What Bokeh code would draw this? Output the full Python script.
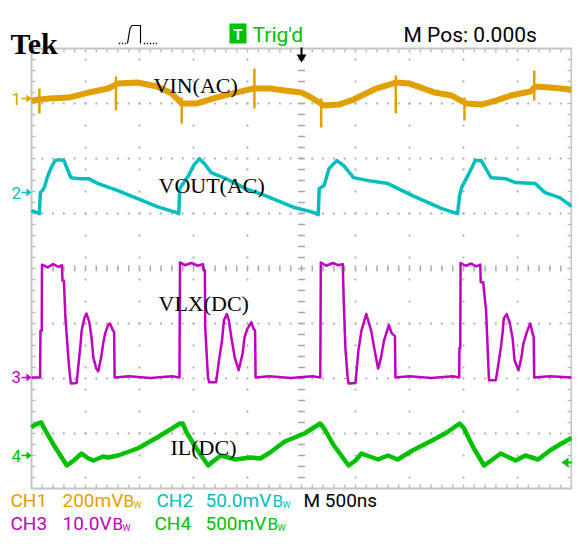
from bokeh.plotting import figure
from bokeh.models import Range1d, ColumnDataSource
from bokeh.core.properties import value
from bokeh.embed import file_html
from bokeh.resources import INLINE

# ------------------------------------------------------------------ data
TIME_DIV_US = 0.5                                  # M 500ns per division
CHANNELS = ["CH1", "CH2", "CH3", "CH4"]
CH_SETTINGS = ["200mV", "50.0mV", "10.0V", "500mV"]
CH_PER_DIV = [200.0, 50.0, 10.0, 500.0]            # mV, mV, V, mV per division
CH_MARKER_DIV = [3.09, 1.38, -1.98, -3.40]         # ground markers (div above centre)
TRACE_LABELS = ["VIN(AC)", "VOUT(AC)", "VLX(DC)", "IL(DC)"]
TIMEBASE = "M 500ns"
TRIG_STATE = "Trig'd"
M_POS = "M Pos: 0.000s"

# time in microseconds, value in channel units
VIN_MV = [(0.000, -7.3), (0.164, 0.0), (0.345, 3.6), (0.527, 21.8), (0.709, 36.4),
          (0.800, 54.5), (0.982, 58.2), (1.164, 43.6), (1.300, 18.2), (1.391, -18.2),
          (1.527, -18.2), (1.709, 3.6), (1.891, 21.8), (2.055, 36.4), (2.209, 36.4),
          (2.345, 29.1), (2.500, 21.8), (2.573, 7.3), (2.709, -25.5), (2.845, -21.8),
          (2.982, -3.6), (3.191, 36.4), (3.373, 58.2), (3.500, 54.5), (3.736, 21.8),
          (3.891, 10.9), (4.027, -18.2), (4.164, -21.8), (4.300, -7.3), (4.436, 10.9),
          (4.618, 25.5), (4.664, 43.6), (4.800, 40.0), (5.000, 32.7)]
VIN_SPIKES_MV = [(0.073, -54.5, 36.4), (0.782, -43.6, 80.0), (1.391, -90.9, 3.6),
                 (2.064, -36.4, 109.0), (2.682, -105.0, 0.0), (3.373, -54.5, 83.6),
                 (4.009, -80.0, 3.6), (4.655, -7.3, 101.8)]

VOUT_MV = [(0.000, -16.4), (0.073, -19.1), (0.082, 0.0), (0.100, 1.8), (0.118, 4.5),
           (0.145, 13.6), (0.182, 22.7), (0.218, 29.1), (0.255, 30.0), (0.300, 29.1),
           (0.364, 13.6), (0.436, 12.7), (0.527, 12.7), (0.618, 8.2), (0.800, 1.8),
           (0.982, -5.5), (1.164, -12.7), (1.345, -18.2), (1.364, -19.1), (1.373, 3.6),
           (1.409, 9.1), (1.455, 15.5), (1.500, 24.5), (1.555, 30.9), (1.600, 26.4),
           (1.664, 18.2), (1.800, 12.7), (1.982, 3.6), (2.164, -2.7), (2.436, -13.6),
           (2.618, -18.2), (2.655, -20.0), (2.664, 3.6), (2.709, 6.4), (2.755, 21.8),
           (2.827, 29.1), (2.891, 24.5), (2.982, 13.6), (3.118, 10.9), (3.300, 8.2),
           (3.527, -2.7), (3.800, -14.5), (3.945, -19.1), (3.964, -2.7), (3.982, 4.5),
           (4.055, 18.2), (4.109, 29.1), (4.164, 29.1), (4.255, 13.6), (4.391, 12.7),
           (4.482, 9.1), (4.664, 8.2), (4.755, 0.0), (4.891, -4.5), (5.000, -12.5)]

VLX_V = [(0.000, 0.0), (0.080, 0.0), (0.083, 8.5), (0.095, 8.5), (0.097, 20.5),
         (0.150, 20.0), (0.200, 20.6), (0.250, 20.1), (0.282, 20.4), (0.287, 17.6),
         (0.300, 17.6), (0.314, 10.9), (0.345, 2.5), (0.364, -1.1), (0.418, -1.0),
         (0.436, 2.5), (0.455, 6.2), (0.464, 8.5), (0.491, 10.9), (0.509, 11.6),
         (0.536, 10.0), (0.555, 7.3), (0.573, 3.6), (0.600, 1.6), (0.618, 1.1),
         (0.645, 3.6), (0.664, 6.2), (0.682, 8.0), (0.709, 9.5), (0.727, 9.8),
         (0.755, 8.5), (0.765, 8.3), (0.770, 0.0), (0.900, 0.2), (1.100, -0.1),
         (1.300, 0.2), (1.370, 0.0), (1.375, 20.9), (1.420, 20.4), (1.480, 20.8),
         (1.540, 20.3), (1.588, 20.6), (1.592, 19.5), (1.605, 19.5), (1.609, 8.9),
         (1.634, 0.0), (1.645, -0.9), (1.709, -0.9), (1.736, 3.1), (1.764, 6.7),
         (1.782, 10.4), (1.809, 11.5), (1.827, 10.4), (1.855, 6.7), (1.882, 3.6),
         (1.918, 1.3), (1.955, 4.4), (1.973, 7.3), (2.000, 8.9), (2.036, 10.0),
         (2.055, 8.9), (2.070, 8.5), (2.075, 0.0), (2.200, 0.2), (2.400, -0.1),
         (2.600, 0.2), (2.674, 0.0), (2.679, 20.9), (2.730, 20.3), (2.790, 20.8),
         (2.840, 20.4), (2.882, 20.6), (2.891, 14.0), (2.906, 5.5), (2.927, 0.0),
         (2.936, -1.1), (3.000, -1.0), (3.027, 4.9), (3.055, 8.5), (3.100, 11.5),
         (3.145, 8.5), (3.182, 4.4), (3.209, 1.6), (3.236, 3.6), (3.264, 6.7),
         (3.309, 9.5), (3.336, 8.0), (3.365, 7.5), (3.370, 0.0), (3.500, 0.2),
         (3.700, -0.1), (3.900, 0.2), (3.960, 0.0), (3.962, 5.3), (3.970, 5.3),
         (3.973, 20.8), (4.020, 20.3), (4.070, 20.7), (4.120, 20.2), (4.155, 20.5),
         (4.160, 17.3), (4.182, 17.3), (4.209, 12.2), (4.227, 3.6), (4.236, -0.5),
         (4.300, -0.5), (4.318, 1.8), (4.345, 5.3), (4.364, 8.5), (4.373, 10.7),
         (4.400, 11.5), (4.427, 10.0), (4.455, 7.1), (4.473, 3.1), (4.509, 1.3),
         (4.536, 3.6), (4.555, 6.2), (4.591, 8.5), (4.618, 9.8), (4.645, 7.6),
         (4.650, 7.4), (4.655, 0.0), (4.800, 0.2), (5.000, 0.0)]

IL_MV = [(0.000, 254.5), (0.036, 281.8), (0.091, 300.0), (0.118, 245.5), (0.209, 90.9),
         (0.327, -90.9), (0.391, -45.5), (0.464, 18.2), (0.527, -27.3), (0.573, -45.5),
         (0.664, -9.1), (0.709, -18.2), (0.800, 0.0), (0.982, 63.6), (1.164, 163.6),
         (1.300, 245.5), (1.373, 290.9), (1.400, 290.9), (1.436, 209.1), (1.527, 63.6),
         (1.636, -90.9), (1.691, -45.5), (1.755, 0.0), (1.891, -36.4), (2.027, -18.2),
         (2.118, -27.3), (2.209, 27.3), (2.345, 127.3), (2.527, 200.0), (2.673, 290.9),
         (2.709, 245.5), (2.800, 90.9), (2.936, -90.9), (3.000, -45.5), (3.055, 18.2),
         (3.209, -36.4), (3.300, 0.0), (3.391, -36.4), (3.527, 45.5), (3.709, 136.4),
         (3.845, 209.1), (3.964, 290.9), (4.000, 254.5), (4.091, 72.7), (4.191, -90.9),
         (4.255, -45.5), (4.345, 18.2), (4.482, -45.5), (4.573, 0.0), (4.691, -36.4),
         (4.800, 45.5), (4.891, 100.0), (5.000, 160.0)]

# ------------------------------------------------------------------ layout / style
W, H = 572, 536
XL, XR, YT, YB = 0, 572, 0, 536          # picture pixels covered by the canvas
GX0, GX1, GY0, GY1 = 31, 571, 48, 488    # graticule
NX, NY = 10, 8
DX = (GX1 - GX0) / NX
DY = (GY1 - GY0) / NY
XC = GX0 + DX * NX / 2
YC = GY0 + DY * NY / 2
COLORS = ["#E0A000", "#00BEBE", "#C000C0", "#00C000"]
GRID = "#a8a8a8"
SANS = value("Roboto")
SERIF = value("Liberation Serif")

p = figure(width=W, height=H, x_range=Range1d(XL, XR), y_range=Range1d(YB, YT),
           toolbar_location=None, output_backend="svg", min_border=0,
           x_axis_type=None, y_axis_type=None, outline_line_color=None,
           background_fill_color="white", border_fill_color="white")

p.extra_x_ranges = {"t": Range1d((XL - GX0) / DX * TIME_DIV_US, (XR - GX0) / DX * TIME_DIV_US)}
ranges = {}
for i, name in enumerate(CHANNELS):
    gy = YC - CH_MARKER_DIV[i] * DY
    s = CH_PER_DIV[i]
    ranges[name] = Range1d((gy - YB) / DY * s, (gy - YT) / DY * s)
p.extra_y_ranges = ranges

# ---------------- graticule
sub_x = [GX0 + DX * k / 5 for k in range(1, NX * 5)]
sub_y = [GY0 + DY * k / 5 for k in range(1, NY * 5)]
x0 = sub_x + sub_x + [GX0] * len(sub_y) + [GX1] * len(sub_y)
x1 = sub_x + sub_x + [GX0 + 4] * len(sub_y) + [GX1 - 4] * len(sub_y)
y0 = [GY0] * len(sub_x) + [GY1] * len(sub_x) + sub_y + sub_y
y1 = [GY0 + 4] * len(sub_x) + [GY1 - 4] * len(sub_x) + sub_y + sub_y
p.segment(x0=x0, y0=y0, x1=x1, y1=y1, line_color="#bcbcbc", line_width=1.5)
p.segment(x0=sub_x, y0=[YC - 3] * len(sub_x), x1=sub_x, y1=[YC + 3] * len(sub_x),
          line_color=GRID, line_width=1.5)
p.segment(x0=[XC - 3.5] * len(sub_y), y0=sub_y, x1=[XC + 3.5] * len(sub_y), y1=sub_y,
          line_color=GRID, line_width=1.5)
dx, dy = [], []
for j in range(1, NY):
    if j == NY // 2:
        continue
    for xx in sub_x:
        dx.append(xx); dy.append(GY0 + DY * j)
for i in range(1, NX):
    if i == NX // 2:
        continue
    for k in range(1, NY * 5, 2):
        dx.append(GX0 + DX * i); dy.append(GY0 + DY * k / 5)
p.rect(x=dx, y=dy, width=1.8, height=1.8, fill_color=GRID, line_color=None)
p.quad(left=[GX0], right=[GX1], top=[GY0], bottom=[GY1], fill_color=None,
       line_color="#c4c4c4", line_width=2)

# ---------------- traces
def cds(points):
    return ColumnDataSource(dict(t=[a for a, _ in points], v=[b for _, b in points]))

p.segment(x0=[s[0] for s in VIN_SPIKES_MV], y0=[s[1] for s in VIN_SPIKES_MV],
          x1=[s[0] for s in VIN_SPIKES_MV], y1=[s[2] for s in VIN_SPIKES_MV],
          line_color=COLORS[0], line_width=2.5, x_range_name="t", y_range_name="CH1")
p.line("t", "v", source=cds(VIN_MV), line_color=COLORS[0], line_width=6,
       line_join="round", x_range_name="t", y_range_name="CH1")
p.line("t", "v", source=cds(VOUT_MV), line_color=COLORS[1], line_width=3.5,
       line_join="round", x_range_name="t", y_range_name="CH2")
p.line("t", "v", source=cds(VLX_V), line_color=COLORS[2], line_width=2.5,
       line_join="round", x_range_name="t", y_range_name="CH3")
p.line("t", "v", source=cds(IL_MV), line_color=COLORS[3], line_width=4.5,
       line_join="round", x_range_name="t", y_range_name="CH4")

# ---------------- channel markers (left) and trigger markers
for i in range(4):
    gy = YC - CH_MARKER_DIV[i] * DY
    p.text(x=[11], y=[gy], text=[str(i + 1)], text_font=SANS, text_font_size="17px",
           text_color=COLORS[i], text_baseline="middle", text_align="left")
    p.segment(x0=[21], y0=[gy], x1=[27], y1=[gy], line_color=COLORS[i], line_width=1.5)
    p.patches(xs=[[26, 26, 31]], ys=[[gy - 4, gy + 4, gy]], fill_color=COLORS[i],
              line_color=None)
TY = 462
p.patches(xs=[[561, 568, 568]], ys=[[TY, TY - 5, TY + 5]], fill_color=COLORS[3], line_color=None)
p.segment(x0=[567], y0=[TY], x1=[572], y1=[TY], line_color=COLORS[3], line_width=2)
p.segment(x0=[XC], y0=[GY0 - 1], x1=[XC], y1=[GY0 + 7], line_color="black", line_width=2)
p.patches(xs=[[XC - 5, XC + 5, XC]], ys=[[GY0 + 6, GY0 + 6, GY0 + 14]],
          fill_color="black", line_color=None)

# ---------------- trace labels
p.text(x=[153, 158, 158, 170], y=[85, 185, 303, 447], text=TRACE_LABELS,
       text_font=SERIF, text_font_size="22px", text_color="black",
       text_baseline="alphabetic", text_align="left")

# ---------------- header
p.text(x=[10], y=[43], text=["Tek"], text_font=SERIF, text_font_size="30px",
       text_font_style="bold", text_color="black", text_baseline="alphabetic")
p.line(x=[127, 129.5, 131.5, 140, 140], y=[43, 28, 25, 25, 43], line_color="black", line_width=1.2)
p.rect(x=[119, 122, 125, 144, 147, 150, 153, 156], y=[43] * 8, width=1.3, height=1.3,
       fill_color="black", line_color=None)
p.quad(left=[229], right=[246], top=[23], bottom=[43], fill_color="#00C000", line_color=None)
p.text(x=[237.5], y=[34], text=["T"], text_font=SANS, text_font_size="15px",
       text_font_style="bold", text_color="white", text_baseline="middle", text_align="center")
p.text(x=[252], y=[34], text=[TRIG_STATE], text_font=SANS, text_font_size="21px",
       text_color="#00C000", text_baseline="middle", text_align="left")
p.text(x=[403], y=[34], text=[M_POS], text_font=SANS, text_font_size="21px",
       text_color="black", text_baseline="middle", text_align="left")

# ---------------- bottom readout
L1, L2 = 500, 523
p.text(x=[10, 62, 156, 205, 303], y=[L1] * 5,
       text=[CHANNELS[0], CH_SETTINGS[0], CHANNELS[1], CH_SETTINGS[1], TIMEBASE],
       text_color=[COLORS[0], COLORS[0], COLORS[1], COLORS[1], "black"],
       text_font=SANS, text_font_size="19px", text_baseline="middle", text_align="left")
p.text(x=[10, 62, 154, 205], y=[L2] * 4,
       text=[CHANNELS[2], CH_SETTINGS[2], CHANNELS[3], CH_SETTINGS[3]],
       text_color=[COLORS[2], COLORS[2], COLORS[3], COLORS[3]],
       text_font=SANS, text_font_size="19px", text_baseline="middle", text_align="left")
BW_X = [123, 272, 112, 267]
BW_Y = [L1, L1, L2, L2]
p.text(x=BW_X, y=BW_Y, text=["B"] * 4, text_color=COLORS, text_font=SANS,
       text_font_size="17px", text_baseline="middle", text_align="left")
p.text(x=[x + 10 for x in BW_X], y=[y + 4 for y in BW_Y], text=["W"] * 4, text_color=COLORS,
       text_font=SANS, text_font_size="9px", text_baseline="middle", text_align="left")

open("out.html", "w").write(file_html(p, INLINE))
